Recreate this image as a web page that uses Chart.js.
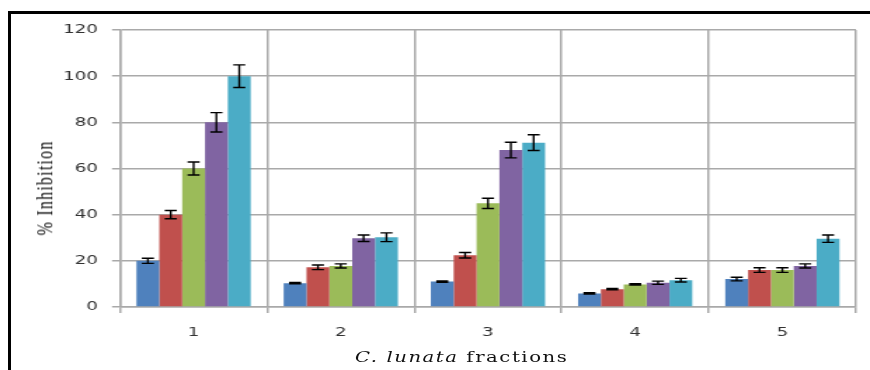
<!DOCTYPE html>
<html>
<head>
<meta charset="utf-8">
<script src="https://cdn.jsdelivr.net/npm/chart.js@4.4.0/dist/chart.umd.min.js"></script>
<style>
    html, body { margin: 0; padding: 0; background: #fff; }
    body { width: 870px; height: 370px; overflow: hidden; position: relative; }
    #frame {
        position: absolute; left: 8px; top: 11px; width: 870px; height: 370px;
        border-top: 3px solid #000; border-left: 3px solid #000;
    }
    /* the original image is stretched sideways, so the chart is drawn narrow and scaled */
    #wrap {
        position: absolute; left: 0; top: 0; width: 620px; height: 370px;
        transform: scaleX(1.4032); transform-origin: 0 0;
    }
    #ytitle {
        position: absolute; left: 32px; top: 188px; white-space: nowrap;
        transform: translate(-50%, -50%) rotate(-90deg);
        font: 16px "Liberation Serif", serif; letter-spacing: 1.2px; color: #111;
    }
    #xtitle {
        position: absolute; left: 329px; top: 357px; white-space: nowrap;
        transform: translate(-50%, -50%);
        font: 14px "DejaVu Serif", serif; letter-spacing: 1.1px; color: #111;
    }
</style>
</head>
<body>
<div id="frame"></div>
<div id="wrap">
    <canvas id="chart" width="620" height="370"></canvas>
    <div id="ytitle">% Inhibition</div>
    <div id="xtitle"><i>C. lunata</i> fractions</div>
</div>
<script>
// Data
const fractions = ['1', '2', '3', '4', '5'];
const yTicks = [0, 20, 40, 60, 80, 100, 120];

const seriesA = [20, 10.3, 11.0, 5.9, 12.1];
const seriesB = [40, 17.2, 22.4, 7.7, 16.0];
const seriesC = [60, 17.8, 44.9, 9.8, 16.0];
const seriesD = [80, 29.8, 68.0, 10.5, 17.8];
const seriesE = [100, 30.2, 71.2, 11.6, 29.6];

const errA = [1.1, 0.3, 0.3, 0.3, 0.8];
const errB = [1.8, 1.0, 1.2, 0.3, 1.0];
const errC = [2.8, 0.9, 2.2, 0.3, 1.0];
const errD = [4.2, 1.4, 3.4, 0.7, 0.9];
const errE = [4.9, 1.9, 3.4, 0.8, 1.6];

const colors = ['#4F81BD', '#C0504D', '#9BBB59', '#8064A2', '#4BACC6'];
const gridColor = '#a9a9a9';

// Error bars drawn on top of the bars
const errorBars = {
    id: 'errorBars',
    afterDatasetsDraw(chart) {
        const ctx = chart.ctx;
        const yScale = chart.scales.y;
        ctx.save();
        ctx.strokeStyle = '#000';
        ctx.lineWidth = 1.4;
        chart.data.datasets.forEach((ds, i) => {
            const meta = chart.getDatasetMeta(i);
            meta.data.forEach((bar, j) => {
                const v = ds.data[j];
                const e = ds.errors[j];
                const top = yScale.getPixelForValue(v + e);
                const bot = yScale.getPixelForValue(v - e);
                const half = 4.3;
                ctx.beginPath();
                ctx.moveTo(bar.x, top);
                ctx.lineTo(bar.x, bot);
                ctx.moveTo(bar.x - half, top);
                ctx.lineTo(bar.x + half, top);
                ctx.moveTo(bar.x - half, bot);
                ctx.lineTo(bar.x + half, bot);
                ctx.stroke();
            });
        });
        ctx.restore();
    }
};

function makeSet(label, data, errors, color) {
    return {
        label: label,
        data: data,
        errors: errors,
        backgroundColor: color,
        borderWidth: 0,
        categoryPercentage: 0.776,
        barPercentage: 1.0
    };
}

new Chart(document.getElementById('chart').getContext('2d'), {
    type: 'bar',
    data: {
        labels: fractions,
        datasets: [
            makeSet('A', seriesA, errA, colors[0]),
            makeSet('B', seriesB, errB, colors[1]),
            makeSet('C', seriesC, errC, colors[2]),
            makeSet('D', seriesD, errD, colors[3]),
            makeSet('E', seriesE, errE, colors[4])
        ]
    },
    options: {
        responsive: false,
        animation: false,
        devicePixelRatio: 1,
        layout: {
            padding: { top: 30, right: 10, bottom: 0, left: 0 }
        },
        plugins: {
            legend: { display: false },
            tooltip: { enabled: false }
        },
        scales: {
            x: {
                grid: {
                    color: gridColor,
                    lineWidth: 1.5,
                    offset: true,
                    tickLength: 6
                },
                border: { color: gridColor, width: 1.5 },
                ticks: {
                    color: '#333',
                    padding: 12,
                    font: { family: 'DejaVu Sans', size: 13 }
                },
                afterFit: function(scale) {
                    scale.height = 63;
                }
            },
            y: {
                min: 0,
                max: 120,
                afterBuildTicks: function(scale) {
                    scale.ticks = yTicks.map(v => ({ value: v }));
                },
                grid: {
                    color: gridColor,
                    lineWidth: 1.5,
                    tickLength: 5.7
                },
                border: { color: gridColor, width: 1.5 },
                ticks: {
                    color: '#333',
                    padding: 10,
                    font: { family: 'DejaVu Sans', size: 13 }
                },
                afterFit: function(scale) {
                    scale.width = 85.5;
                }
            }
        }
    },
    plugins: [errorBars]
});
</script>
</body>
</html>
